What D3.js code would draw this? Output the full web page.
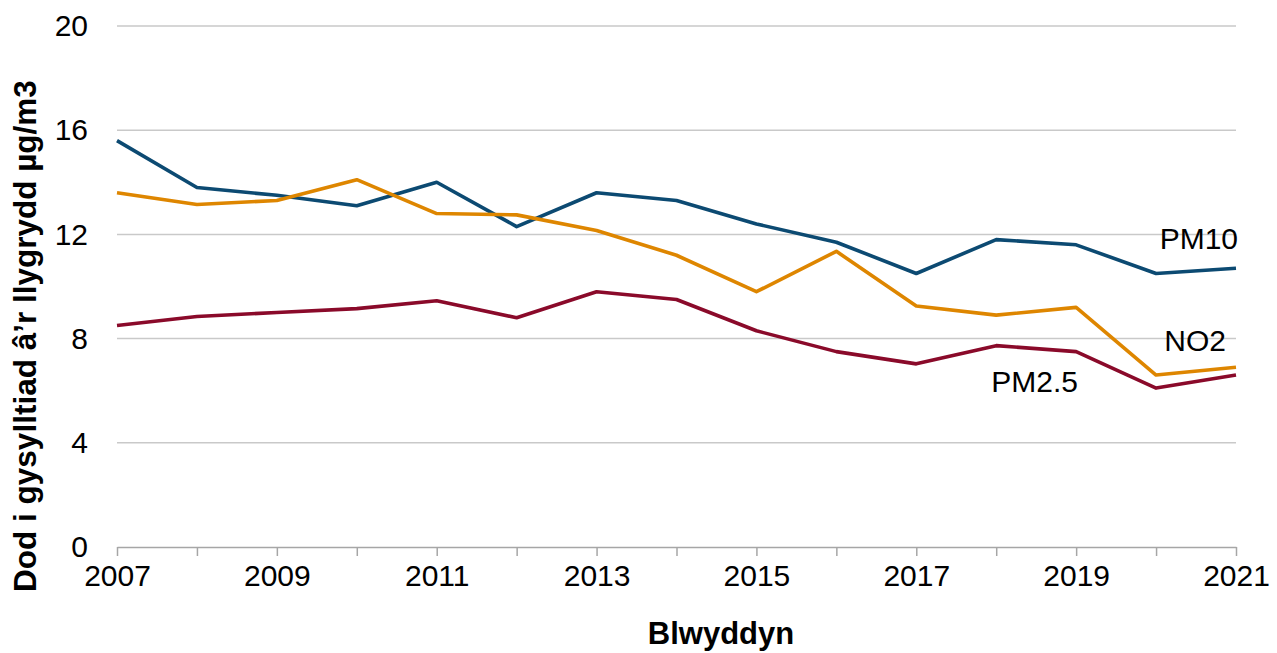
<!DOCTYPE html>
<html>
<head>
<meta charset="utf-8">
<script src="https://cdn.jsdelivr.net/npm/d3@7"></script>
<style>
  html, body { margin: 0; padding: 0; background: #fff; }
  svg { display: block; font-family: "Liberation Sans", Arial, sans-serif; }
</style>
</head>
<body>
<svg id="chart" width="1277" height="653"></svg>
<script>
const years = [2007,2008,2009,2010,2011,2012,2013,2014,2015,2016,2017,2018,2019,2020,2021];
const pm10 = [15.6,13.8,13.5,13.1,14.0,12.3,13.6,13.3,12.4,11.7,10.5,11.8,11.6,10.5,10.7];
const no2  = [13.6,13.15,13.3,14.1,12.8,12.75,12.15,11.2,9.8,11.35,9.25,8.9,9.2,6.6,6.9];
const pm25 = [8.5,8.85,9.0,9.15,9.45,8.8,9.8,9.5,8.3,7.5,7.03,7.73,7.5,6.1,6.6];
const yTicks = [0,4,8,12,16,20];
const xTickLabels = [2007,2009,2011,2013,2015,2017,2019,2021];
const seriesNames = ["PM10","NO2","PM2.5"];
const xTitle = "Blwyddyn";
const yTitle = "Dod i gysylltiad â’r llygrydd µg/m3";

(function () {
const svg = d3.select("#chart");
const mLeft = 117, mRight = 1236, mTop = 26, mBottom = 547;
const x = d3.scaleLinear().domain([2007, 2021]).range([mLeft, mRight]);
const y = d3.scaleLinear().domain([0, 20]).range([mBottom, mTop]);
const fs = 30;

// gridlines
svg.append("g").selectAll("line").data(yTicks.filter(d => d > 0)).join("line")
  .attr("x1", mLeft).attr("x2", mRight)
  .attr("y1", d => y(d)).attr("y2", d => y(d))
  .attr("stroke", "#c9c9c9").attr("stroke-width", 1.5);

// y axis labels
const yAxis = d3.axisLeft(y).tickValues(yTicks).tickSize(0).tickPadding(29).tickFormat(d3.format("d"));
const gy = svg.append("g").attr("transform", `translate(${mLeft},0)`).call(yAxis);
gy.select(".domain").remove();
gy.selectAll("text").attr("font-size", fs).attr("fill", "#000").attr("font-family", "Liberation Sans, Arial, sans-serif");

// x axis
const xAxis = d3.axisBottom(x).tickValues(years).tickSize(9).tickSizeOuter(0).tickPadding(9)
  .tickFormat(d => xTickLabels.includes(d) ? String(d) : "");
const gx = svg.append("g").attr("transform", `translate(0,${mBottom})`).call(xAxis);
gx.select(".domain").attr("stroke", "#a6a6a6").attr("stroke-width", 1.5);
gx.selectAll(".tick line").attr("stroke", "#a6a6a6").attr("stroke-width", 1.5);
gx.selectAll("text").attr("font-size", fs).attr("fill", "#000").attr("font-family", "Liberation Sans, Arial, sans-serif");

// lines
const colors = ["#0c4a72", "#de8600", "#8a0a2a"];
const data = [pm10, no2, pm25];
const line = d3.line().x((d, i) => x(years[i])).y(d => y(d));
svg.append("g").selectAll("path").data(data).join("path")
  .attr("d", line)
  .attr("fill", "none")
  .attr("stroke", (d, i) => colors[i])
  .attr("stroke-width", 3.6)
  .attr("stroke-linejoin", "round");

// series labels
const labelPos = [
  {name: seriesNames[0], x: 1238, y: 249},
  {name: seriesNames[1], x: 1226, y: 351},
  {name: seriesNames[2], x: 1078, y: 392}
];
svg.append("g").selectAll("text").data(labelPos).join("text")
  .attr("x", d => d.x).attr("y", d => d.y)
  .attr("text-anchor", "end")
  .attr("font-size", fs)
  .attr("fill", "#000")
  .text(d => d.name);

// axis titles
svg.append("text")
  .attr("x", 721).attr("y", 644)
  .attr("text-anchor", "middle")
  .attr("font-size", 31).attr("font-weight", "bold")
  .text(xTitle);

svg.append("text")
  .attr("transform", `translate(36,336) rotate(-90)`)
  .attr("text-anchor", "middle")
  .attr("font-size", 31.5).attr("font-weight", "bold")
  .text(yTitle);
})();
</script>
</body>
</html>
